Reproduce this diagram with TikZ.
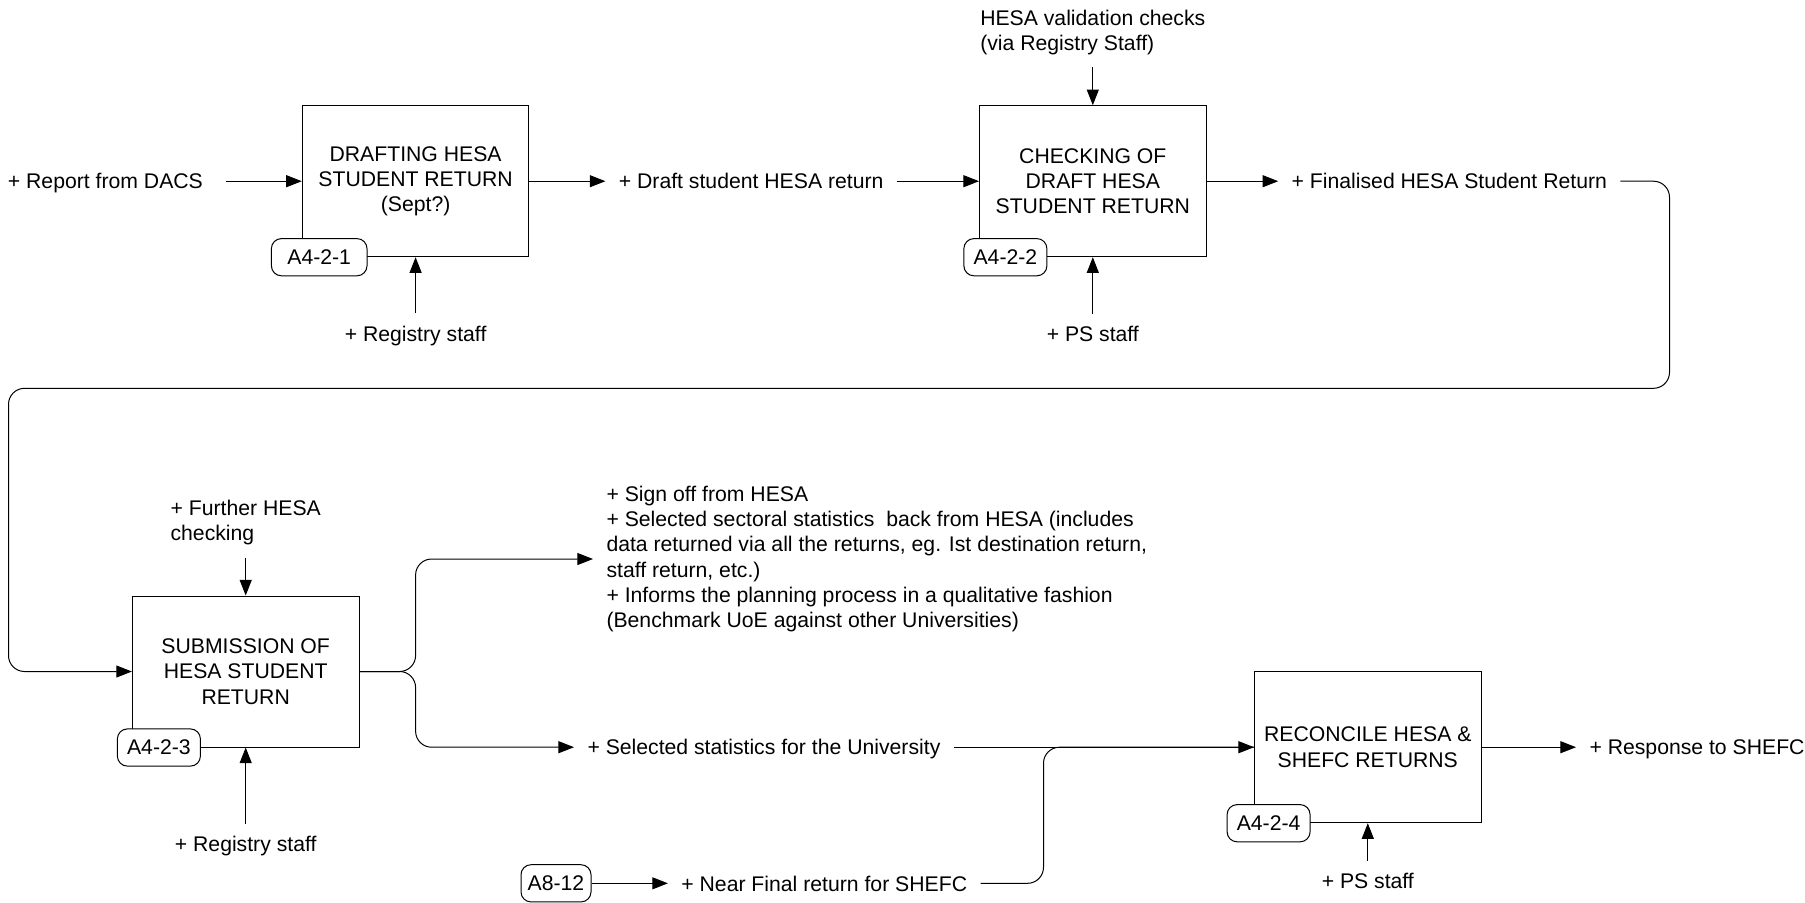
\documentclass[tikz,border=0pt]{standalone}
\usepackage{fontspec}
\setmainfont{Liberation Sans}
\usetikzlibrary{arrows.meta}
\usetikzlibrary{positioning}

\begin{document}
\begin{tikzpicture}[x=0.5pt,y=0.5pt,>={Triangle[length=7.8pt,width=6pt]},line width=0.5pt,
        font=\fontsize{10.6pt}{12.6pt}\selectfont,
        act/.style={rectangle,draw,minimum width=113.3pt,minimum height=75.5pt,align=center,inner sep=2pt},
        tag/.style={rectangle,draw,fill=white,rounded corners=5pt,minimum height=18.6pt,minimum width=41.5pt,inner xsep=2pt,inner ysep=0pt},
        lbl/.style={inner xsep=6.5pt,inner ysep=6pt},
        lbl1/.style={lbl,text depth=0pt}]

  \useasboundingbox (0,0) rectangle (1805,-902);

  % activities
  \node [act] (draft)  at (415.6,-181.2)         {DRAFTING HESA\\STUDENT RETURN\\(Sept?)};
  \node [act] (check)  [right=224.8pt of draft]  {CHECKING OF\\DRAFT HESA\\STUDENT RETURN};
  \node [act] (submit) at (245.7,-671.5)         {SUBMISSION OF\\HESA STUDENT\\RETURN};
  \node [act] (recon)  at (1367.8,-747.2)        {RECONCILE HESA \&\\SHEFC RETURNS};

  % node numbers
  \node [tag,minimum width=47.8pt] (t1) at ([xshift=8.7pt]draft.south west) {A4-2-1};
  \node [tag] (t2) at ([xshift=13.2pt]check.south west)  {A4-2-2};
  \node [tag] (t3) at ([xshift=13.5pt]submit.south west) {A4-2-3};
  \node [tag] (t4) at ([xshift=7.3pt]recon.south west)   {A4-2-4};
  \node [tag,minimum width=35pt] (a812) at (556,-883.3) {A8-12};

  % inputs, outputs, controls, mechanisms
  \node [lbl1] (dacs)    [left=42.7pt of draft]   {+ Report from DACS};
  \node [lbl1] (drafted) [right=38pt of draft]    {+ Draft student HESA return};
  \node [lbl1] (final)   [right=35.8pt of check]  {+ Finalised HESA Student Return};
  \node [lbl,align=left] (valid) [above=18.9pt of check] {HESA validation checks\\(via Registry Staff)};
  \node [lbl1] (regA)    [below=28pt of draft]    {+ Registry staff};
  \node [lbl1] (psA)     [below=28.2pt of check]  {+ PS staff};
  \node [lbl,align=left] (further) [above=19pt of submit] {+ Further HESA\\checking};
  \node [lbl1] (regB)    [below=38.2pt of submit] {+ Registry staff};
  \node [lbl,anchor=west,align=left] (signoff) at (593,-559)
        {+ Sign off from HESA\\
         + Selected sectoral statistics~ back from HESA (includes\\
         data returned via all the returns, eg. Ist destination return,\\
         staff return, etc.)\\
         + Informs the planning process in a qualitative fashion\\
         (Benchmark UoE against other Universities)};
  \node [lbl1,anchor=west] (stats) at (574,-747.2) {+ Selected statistics for the University};
  \node [lbl1] (psB)     [below=18.7pt of recon]  {+ PS staff};
  \node [lbl1] (resp)    [right=47.2pt of recon]  {+ Response to SHEFC};
  \node [lbl1] (near)    [right=38.2pt of a812]   {+ Near Final return for SHEFC};

  \coordinate (loopR) at (1669.5,-388.3);
  \coordinate (loopL) at (8.5,-388.3);
  \coordinate (fork)  at (415.6,-671.5);
  \coordinate (merge) at (1043.5,-747.2);

  \path [->]
    (dacs)    edge[shorten <=5pt] (draft)
    (draft)   edge (drafted)
    (drafted) edge (check)
    (check)   edge (final)
    (valid)   edge (check)
    (regA)    edge (draft)
    (psA)     edge (check)
    (further) edge (submit)
    (regB)    edge (submit)
    (stats)   edge (recon)
    (psB)     edge (recon)
    (recon)   edge (resp)
    (a812)    edge (near)
  ;

  \draw [->,rounded corners=8pt] (final) -| (loopR) -- (loopL) |- (submit);
  \draw [->,rounded corners=8pt] (submit) -- (fork) |- (signoff);
  \draw [->,rounded corners=8pt] (submit) -- (fork) |- (stats);
  \draw [rounded corners=8pt] (near) -| (merge) -- (recon);
\end{tikzpicture}
\end{document}
